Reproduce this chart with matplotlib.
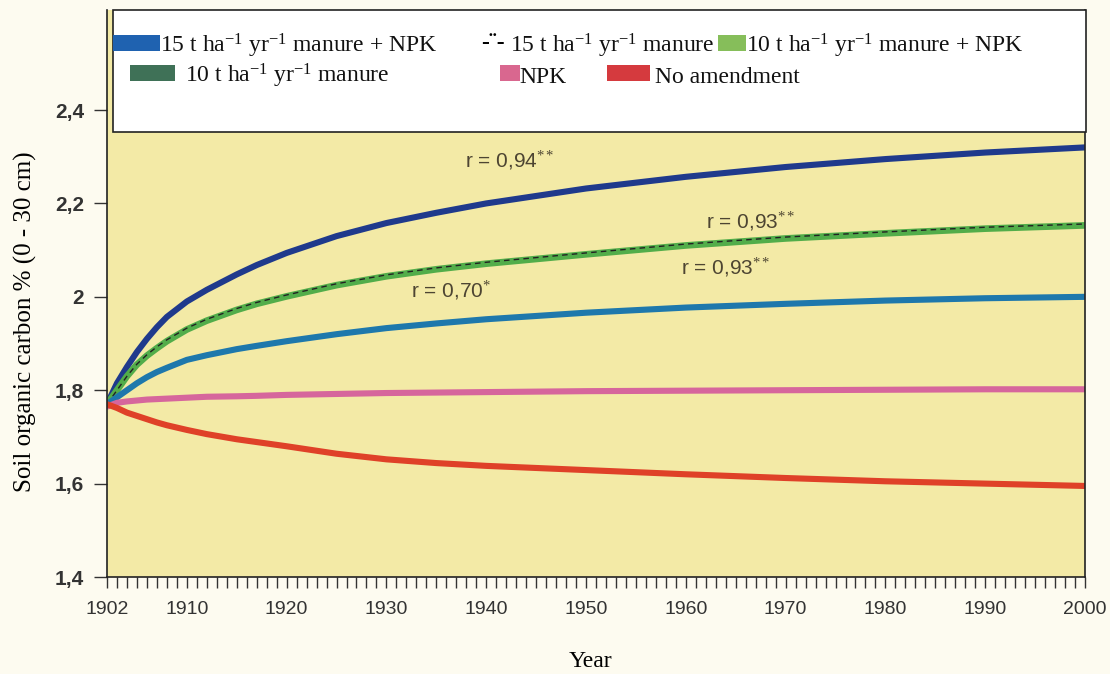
import matplotlib.pyplot as plt
from matplotlib.patches import Rectangle
from matplotlib.ticker import FixedLocator, MultipleLocator, FuncFormatter

plt.rcParams['mathtext.fontset'] = 'custom'
plt.rcParams['mathtext.rm'] = 'Liberation Serif'
plt.rcParams['mathtext.it'] = 'Liberation Serif:italic'
plt.rcParams['mathtext.bf'] = 'Liberation Serif:bold'

# data
years = [1902, 1903, 1904, 1905, 1906, 1907, 1908, 1910, 1912, 1915, 1917,
         1920, 1925, 1930, 1935, 1940, 1950, 1960, 1970, 1980, 1990, 2000]
manure15_npk = [1.77, 1.815, 1.85, 1.882, 1.91, 1.935, 1.957, 1.99, 2.015,
                2.048, 2.068, 2.094, 2.13, 2.158, 2.18, 2.20, 2.232, 2.257,
                2.278, 2.295, 2.309, 2.32]
manure15 = [1.77, 1.80, 1.83, 1.856, 1.876, 1.893, 1.908, 1.933, 1.952, 1.975,
            1.988, 2.004, 2.028, 2.047, 2.062, 2.074, 2.094, 2.113, 2.128,
            2.139, 2.149, 2.156]
manure10_npk = [1.77, 1.80, 1.83, 1.855, 1.874, 1.89, 1.905, 1.93, 1.949,
                1.972, 1.985, 2.001, 2.025, 2.044, 2.059, 2.071, 2.091, 2.11,
                2.125, 2.136, 2.146, 2.153]
manure10 = [1.77, 1.785, 1.80, 1.815, 1.828, 1.839, 1.848, 1.865, 1.875,
            1.888, 1.895, 1.905, 1.92, 1.933, 1.943, 1.952, 1.966, 1.977,
            1.985, 1.992, 1.997, 2.0]
npk = [1.765, 1.773, 1.776, 1.778, 1.78, 1.781, 1.782, 1.784, 1.786, 1.787,
       1.788, 1.79, 1.792, 1.794, 1.795, 1.796, 1.798, 1.799, 1.80, 1.801,
       1.802, 1.802]
no_amend = [1.77, 1.762, 1.752, 1.745, 1.738, 1.731, 1.725, 1.715, 1.706,
            1.695, 1.689, 1.68, 1.664, 1.652, 1.644, 1.638, 1.629, 1.62,
            1.612, 1.605, 1.60, 1.595]

year_labels = [1902, 1910, 1920, 1930, 1940, 1950, 1960, 1970, 1980, 1990, 2000]
y_ticks = [1.4, 1.6, 1.8, 2.0, 2.2, 2.4]

sup = '$^{-1}$'
legend_labels = [
    '15 t ha' + sup + ' yr' + sup + ' manure + NPK',
    '15 t ha' + sup + ' yr' + sup + ' manure',
    '10 t ha' + sup + ' yr' + sup + ' manure + NPK',
    '10 t ha' + sup + ' yr' + sup + ' manure',
    'NPK',
    'No amendment',
]
legend_colors = ['#1f62b0', None, '#86be5a', '#3f7157', '#d9678f', '#d53a3e']

fig = plt.figure(figsize=(11.1, 6.74), dpi=100, facecolor='#fdfbf0')
ax = fig.add_axes([0.0964, 0.1439, 0.8811, 0.8411])
ax.set_facecolor('#f3eaa6')

ax.plot(years, manure15_npk, color='#1f3a8c', lw=4.4, solid_capstyle='round')
ax.plot(years, manure10_npk, color='#52ad4a', lw=4.8, solid_capstyle='round')
ax.plot(years, manure15, color='#222222', lw=1.0, dashes=(4, 3))
ax.plot(years, manure10, color='#1e78ac', lw=4.4, solid_capstyle='round')
ax.plot(years, npk, color='#d6669c', lw=4.4, solid_capstyle='round')
ax.plot(years, no_amend, color='#df4128', lw=4.4, solid_capstyle='round')

ax.set_xlim(1902, 2000)
ax.set_ylim(1.4, 2.614)

# ticks
ax.xaxis.set_major_locator(FixedLocator(year_labels))
ax.xaxis.set_minor_locator(MultipleLocator(1))
ax.tick_params(axis='x', which='both', direction='out', length=8, width=1,
               color='#333333', pad=9)
ax.tick_params(axis='x', which='major', labelsize=14, labelcolor='#333333')
ax.set_xticklabels([str(y) for y in year_labels], family='Liberation Sans')

ax.set_yticks(y_ticks)
ax.yaxis.set_major_formatter(FuncFormatter(
    lambda v, p: ('%g' % round(v, 1)).replace('.', ',')))
ax.tick_params(axis='y', direction='out', length=9.5, width=1, color='#333333',
               labelsize=15, labelcolor='#333333', pad=7)
for lab in ax.get_yticklabels():
    lab.set_fontweight('bold')
    lab.set_family('Liberation Sans')

for s in ['left', 'bottom', 'right']:
    ax.spines[s].set_color('#222222')
    ax.spines[s].set_linewidth(1.2)
ax.spines['top'].set_visible(False)

ax.set_xlabel('Year', family='Liberation Serif', fontsize=17)
ax.xaxis.set_label_coords(0.494, -0.13)
ax.set_ylabel('Soil organic carbon % (0 - 30 cm)', family='Liberation Serif',
              fontsize=18)
ax.yaxis.set_label_coords(-0.072, 0.45)

# correlation notes
note_kw = dict(family='Liberation Sans', fontsize=15, color='#4d4532',
               ha='center', va='center')
ax.text(1942.4, 2.293, 'r = 0,94$^{**}$', **note_kw)
ax.text(1966.5, 2.162, 'r = 0,93$^{**}$', **note_kw)
ax.text(1964, 2.064, 'r = 0,93$^{**}$', **note_kw)
ax.text(1936.5, 2.014, 'r = 0,70$^{*}$', **note_kw)

# legend box drawn over the top of the plot
ax.add_patch(Rectangle((0.006, 0.785), 0.995, 0.215, transform=ax.transAxes,
                       facecolor='white', edgecolor='#222222', lw=1.2,
                       zorder=5, clip_on=False))

# legend layout: (handle left, handle right, text left, row centre, baseline)
layout = [
    (0.006, 0.054, 0.054, 0.9418, 0.925),
    (0.385, 0.405, 0.412, 0.9418, 0.925),
    (0.625, 0.653, 0.653, 0.9418, 0.925),
    (0.024, 0.070, 0.080, 0.8889, 0.872),
    (0.402, 0.422, 0.422, 0.8889, 0.872),
    (0.511, 0.555, 0.560, 0.8889, 0.872),
]
for (h0, h1, tx, ty, tb), lab, col in zip(layout, legend_labels, legend_colors):
    if col is None:
        ax.text((h0 + h1) / 2, ty, '-\u00a8-', transform=ax.transAxes,
                ha='center', va='center', fontsize=17, fontweight='bold',
                family='Liberation Serif', zorder=7)
    else:
        ax.add_patch(Rectangle((h0, ty - 0.014), h1 - h0, 0.028,
                               transform=ax.transAxes, facecolor=col,
                               edgecolor='none', zorder=6, clip_on=False))
    ax.text(tx, tb, lab, transform=ax.transAxes, ha='left', va='baseline',
            fontsize=17, family='Liberation Serif', color='#111111', zorder=7)

fig.savefig('out.png', dpi=100, facecolor=fig.get_facecolor())
